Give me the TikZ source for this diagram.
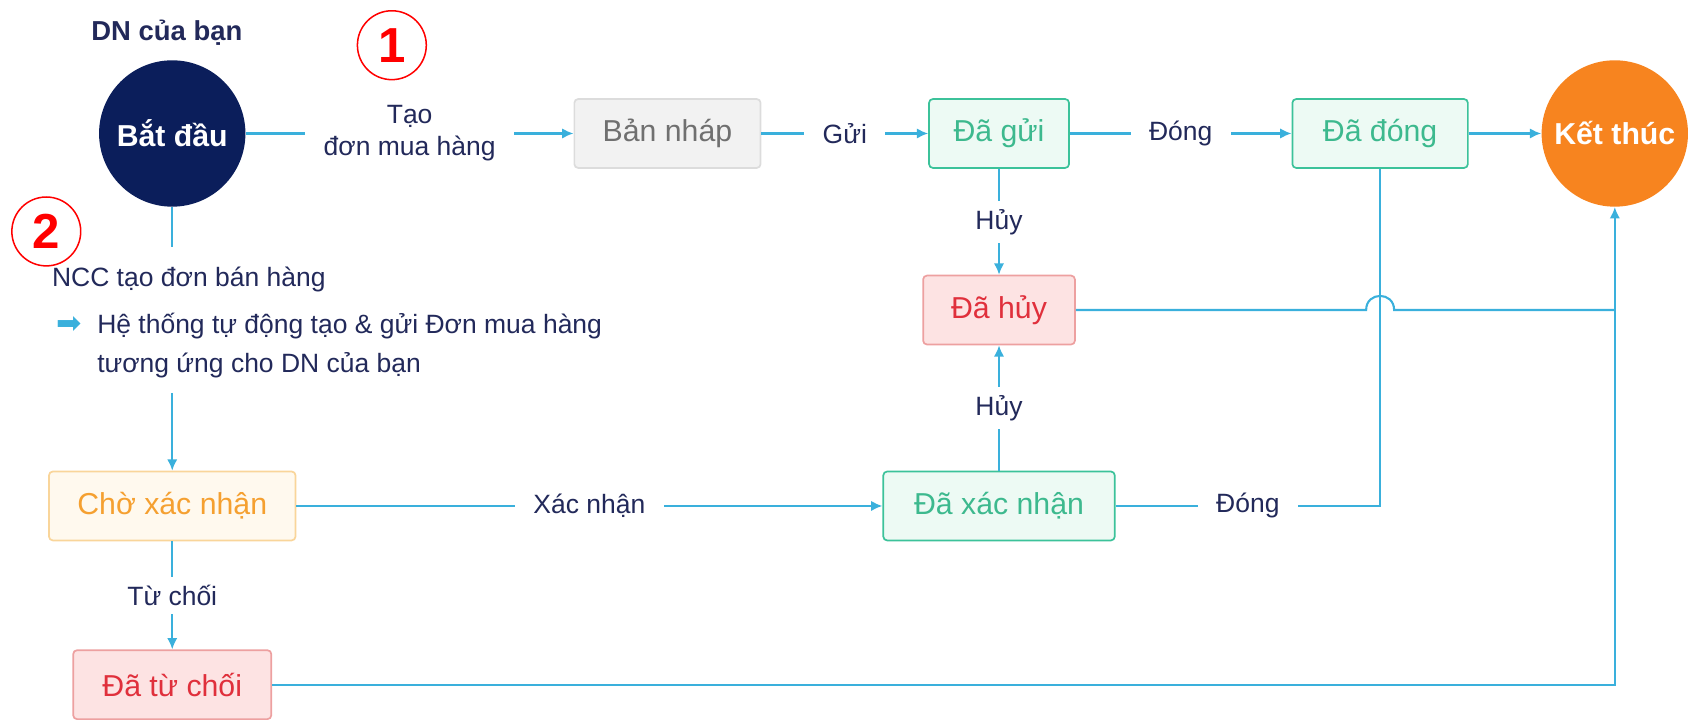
\documentclass[tikz,border=0pt]{standalone}
\usepackage{fontspec}
\setmainfont{Liberation Sans}
\newfontfamily\symfont{DejaVu Sans}
\usepackage{xcolor}
\usetikzlibrary{shapes,arrows,arrows.meta,calc}

\definecolor{navy}{HTML}{22295A}
\definecolor{startblue}{HTML}{0B1E5B}
\definecolor{flowblue}{HTML}{3AB0DC}
\definecolor{endorange}{HTML}{F7841F}
\definecolor{grayfill}{HTML}{F2F2F2}
\definecolor{grayline}{HTML}{DCDCDC}
\definecolor{graytext}{HTML}{707070}
\definecolor{greenfill}{HTML}{EDFAF4}
\definecolor{greenline}{HTML}{3CC29A}
\definecolor{greentext}{HTML}{3DB98E}
\definecolor{redfill}{HTML}{FDE3E3}
\definecolor{redline}{HTML}{EDA0A0}
\definecolor{redtext}{HTML}{E0303C}
\definecolor{orangefill}{HTML}{FFF9EE}
\definecolor{orangeline}{HTML}{F9D59A}
\definecolor{orangetext}{HTML}{F5A030}

\tikzset{
  box/.style={rectangle, rounded corners=2pt, line width=0.9pt, minimum height=1.28cm,
    font=\fontsize{16}{19}\selectfont},
  graybox/.style={box, draw=grayline, fill=grayfill, text=graytext},
  greenbox/.style={box, draw=greenline, fill=greenfill, text=greentext},
  redbox/.style={box, draw=redline, fill=redfill, text=redtext},
  orangebox/.style={box, draw=orangeline, fill=orangefill, text=orangetext},
  endpoint/.style={circle, minimum size=2.72cm, inner sep=0pt, text=white,
    font=\fontsize{16}{19}\selectfont\bfseries},
  badge/.style={circle, draw=red, line width=0.8pt, minimum size=1.28cm, inner sep=0pt,
    text=red, font=\fontsize{26}{30}\selectfont\bfseries},
  flow/.style={draw=flowblue, line width=1.1pt},
  tip/.style={-{Latex[length=6pt,width=5.5pt]}},
  lbl/.style={fill=white, text=navy, font=\fontsize{14}{17}\selectfont,
    inner xsep=0.34cm, inner ysep=0.15cm, align=center},
  note/.style={text=navy, font=\fontsize{14}{17}\selectfont, anchor=west, inner sep=0pt}
}

\begin{document}
\begin{tikzpicture}[x=0.02cm, y=-0.02cm]
  \useasboundingbox (0,0) rectangle (1568,668);

  % nut bat dau / ket thuc
  \node[text=navy, font=\fontsize{14.5}{17}\selectfont\bfseries] (dn) at (155,30) {DN của bạn};
  \node[endpoint, fill=startblue] (batDau) at (160,124) {Bắt đầu};
  \node[endpoint, fill=endorange] (ketThuc) at (1500,124) {Kết thúc};

  % trang thai
  \node[graybox, minimum width=3.46cm] (banNhap) at (620,124) {Bản nháp};
  \node[greenbox, minimum width=2.6cm] (daGui) at (928,124) {Đã gửi};
  \node[greenbox, minimum width=3.26cm] (daDong) at (1282,124) {Đã đóng};
  \node[redbox, minimum width=2.82cm] (daHuy) at (928,288) {Đã hủy};
  \node[greenbox, minimum width=4.3cm] (daXacNhan) at (928,470) {Đã xác nhận};
  \node[orangebox, minimum width=4.58cm] (choXacNhan) at (160,470) {Chờ xác nhận};
  \node[redbox, minimum width=3.68cm] (daTuChoi) at (160,636) {Đã từ chối};

  % so thu tu
  \node[badge] (one) at (364,42) {1};
  \node[badge] (two) at (43,215) {2};

  % ghi chu nhanh 2
  \node[note] (ncc) at (48,260) {NCC tạo đơn bán hàng};
  \node[note, text=flowblue, font=\fontsize{16}{17}\selectfont] (mark) at (52,302) {\symfont ➡};
  \node[note, align=left, font=\fontsize{14}{21}\selectfont] (heThong) at (90,321)
    {Hệ thống tự động tạo \& gửi Đơn mua hàng\\tương ứng cho DN của bạn};
  \coordinate (nccTop) at (160,229);
  \coordinate (nccBot) at (160,365);

  % luong chinh
  \draw[flow,tip] (batDau) -- node[lbl]{Tạo\\đơn mua hàng} (banNhap);
  \draw[flow,tip] (banNhap) -- node[lbl]{Gửi} (daGui);
  \draw[flow,tip] (daGui) -- node[lbl]{Đóng} (daDong);
  \draw[flow,tip] (daDong) -- (ketThuc);
  \draw[flow,tip] (daGui) -- node[lbl]{Hủy} (daHuy);
  \draw[flow,tip] (daXacNhan) -- node[lbl]{Hủy} (daHuy);
  \draw[flow] (daXacNhan) -- node[lbl]{Đóng} (daDong |- daXacNhan) -- (daDong);

  % nhanh 2
  \draw[flow] (batDau) -- (nccTop);
  \draw[flow,tip] (nccBot) -- (choXacNhan);
  \draw[flow,tip] (choXacNhan) -- node[lbl]{Xác nhận} (daXacNhan);
  \draw[flow,tip] (choXacNhan) -- node[lbl]{Từ chối} (daTuChoi);

  % ve ket thuc
  \coordinate (hop) at (daDong |- daHuy);
  \draw[flow] (daHuy) -- ([xshift=-0.26cm]hop)
    .. controls ([xshift=-0.26cm,yshift=0.35cm]hop) and ([xshift=0.26cm,yshift=0.35cm]hop)
    .. ([xshift=0.26cm]hop) -- (ketThuc |- daHuy);
  \draw[flow,tip] (daTuChoi) -- (ketThuc |- daTuChoi) -- (ketThuc);
\end{tikzpicture}
\end{document}
